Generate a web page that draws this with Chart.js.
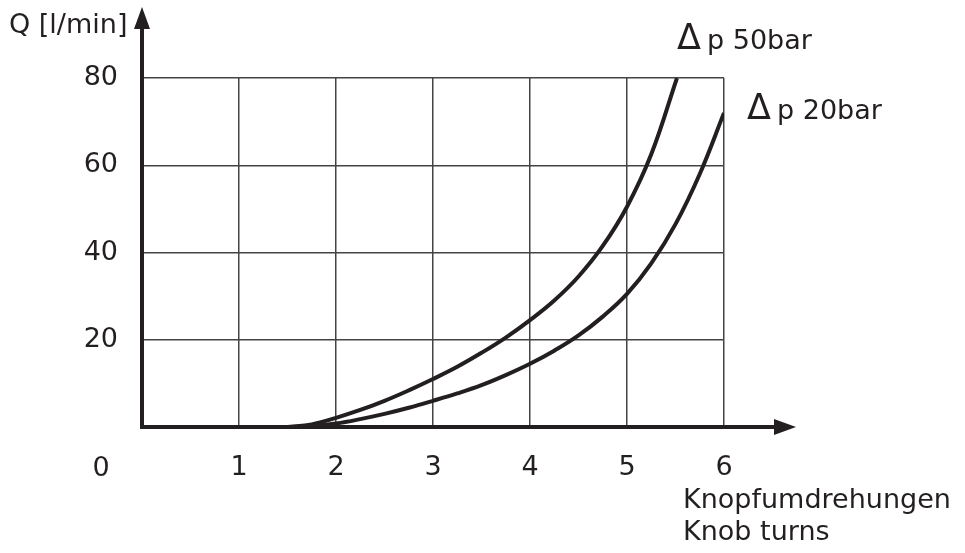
<!DOCTYPE html>
<html>
<head>
<meta charset="utf-8">
<script src="https://cdn.jsdelivr.net/npm/chart.js@4/dist/chart.umd.min.js"></script>
<style>
  html, body { margin: 0; padding: 0; background: #ffffff; }
  #wrap { width: 965px; height: 553px; position: relative; }
</style>
</head>
<body>
<div id="wrap"><canvas id="c" width="965" height="553"></canvas></div>
<script>
// ---- data ----
const xTicks = [0, 1, 2, 3, 4, 5, 6];
const yTicks = [0, 20, 40, 60, 80];
const turns50 = [1.5, 1.75, 2, 2.25, 2.5, 2.75, 3, 3.25, 3.5, 3.75, 4, 4.25, 4.5, 4.75, 5, 5.25, 5.515];
const flow50  = [0, 0.6, 2.1, 3.9, 6.0, 8.4, 11, 13.8, 17, 20.5, 24.5, 29, 34.5, 41.5, 50.5, 62.5, 80];
const turns20 = [1.5, 1.75, 2, 2.25, 2.5, 2.75, 3, 3.25, 3.5, 3.75, 4, 4.25, 4.5, 4.75, 5, 5.25, 5.5, 5.75, 6];
const flow20  = [0, 0.2, 0.8, 1.8, 3.0, 4.4, 6.0, 7.7, 9.6, 11.9, 14.5, 17.5, 21, 25.3, 30.5, 37.5, 46.5, 58, 72];
const yTitle = 'Q [l/min]';
const xTitle1 = 'Knopfumdrehungen';
const xTitle2 = 'Knob turns';
const label50 = 'p 50bar';
const label20 = 'p 20bar';

const FONT = '"DejaVu Sans", sans-serif';
const INK = '#231f20';

const toPts = (xs, ys) => xs.map((x, i) => ({ x: x, y: ys[i] }));

const decor = {
  id: 'decor',
  afterDraw(chart) {
    const ctx = chart.ctx;
    const xs = chart.scales.x, ys = chart.scales.y;
    const x0 = xs.getPixelForValue(0), y0 = ys.getPixelForValue(0);
    ctx.save();
    ctx.strokeStyle = INK; ctx.fillStyle = INK; ctx.lineWidth = 4;
    // y axis with arrow
    ctx.beginPath(); ctx.moveTo(x0, y0 + 2); ctx.lineTo(x0, 26); ctx.stroke();
    ctx.beginPath(); ctx.moveTo(x0, 7); ctx.lineTo(x0 - 8, 29); ctx.lineTo(x0 + 8, 29); ctx.closePath(); ctx.fill();
    // x axis with arrow
    ctx.beginPath(); ctx.moveTo(x0 - 2, y0); ctx.lineTo(777, y0); ctx.stroke();
    ctx.beginPath(); ctx.moveTo(796, y0); ctx.lineTo(774, y0 - 8); ctx.lineTo(774, y0 + 8); ctx.closePath(); ctx.fill();
    // texts
    ctx.fillStyle = INK;
    ctx.font = '27px ' + FONT;
    ctx.textBaseline = 'alphabetic';
    ctx.textAlign = 'left';
    ctx.fillText(yTitle, 9, 33);
    ctx.fillText(xTitle1, 683, 508);
    ctx.fillText(xTitle2, 683, 540);
    ctx.textAlign = 'center';
    ctx.fillText(String(xTicks[0]), 101, 476);
    // delta labels
    ctx.textAlign = 'left';
    ctx.font = '35px ' + FONT;
    ctx.fillText('\u0394', 677, 49);
    ctx.fillText('\u0394', 747, 119);
    ctx.font = '27px ' + FONT;
    ctx.fillText(label50, 707, 49);
    ctx.fillText(label20, 777, 119);
    ctx.restore();
  }
};

new Chart(document.getElementById('c'), {
  type: 'scatter',
  data: {
    datasets: [
      { label: label50, data: toPts(turns50, flow50), showLine: true, borderColor: INK, borderWidth: 4,
        pointRadius: 0, tension: 0.4, fill: false },
      { label: label20, data: toPts(turns20, flow20), showLine: true, borderColor: INK, borderWidth: 4,
        pointRadius: 0, tension: 0.4, fill: false }
    ]
  },
  options: {
    responsive: false,
    animation: false,
    devicePixelRatio: 1,
    layout: { padding: { top: 78, right: 241, left: 0, bottom: 0 } },
    plugins: { legend: { display: false }, tooltip: { enabled: false } },
    scales: {
      x: {
        type: 'linear', min: xTicks[0], max: xTicks[xTicks.length - 1],
        afterBuildTicks: s => { s.ticks = xTicks.map(v => ({ value: v })); },
        afterFit: s => { s.height = 126; },
        border: { display: false },
        grid: { color: '#444444', lineWidth: 1.5, drawTicks: false },
        ticks: { color: INK, font: { family: FONT, size: 27 }, padding: 25,
                 callback: v => (v === 0 ? '' : String(v)) }
      },
      y: {
        type: 'linear', min: yTicks[0], max: yTicks[yTicks.length - 1],
        afterBuildTicks: s => { s.ticks = yTicks.map(v => ({ value: v })); },
        afterFit: s => { s.width = 142; },
        border: { display: false },
        grid: { color: '#444444', lineWidth: 1.5, drawTicks: false },
        ticks: { color: INK, font: { family: FONT, size: 27 }, padding: 24,
                 callback: v => (v === 0 ? '' : String(v)) }
      }
    }
  },
  plugins: [decor]
});
</script>
</body>
</html>
